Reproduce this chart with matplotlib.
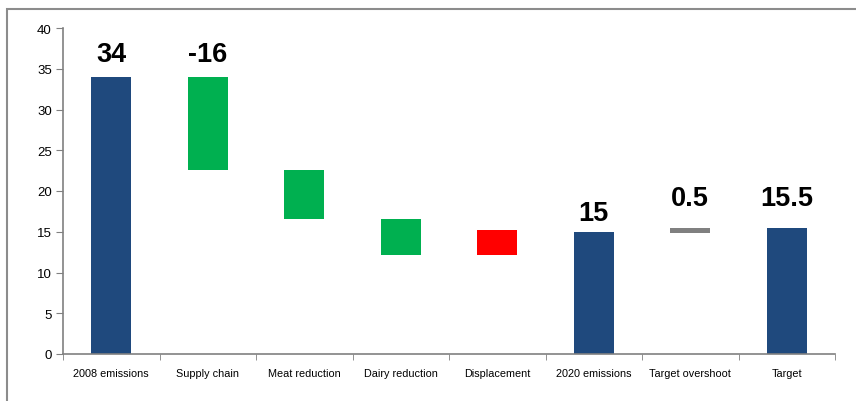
import numpy as np
import matplotlib
matplotlib.use('Agg')
import matplotlib.pyplot as plt
from matplotlib.patches import Rectangle

plt.rcParams['font.family'] = ['Liberation Sans', 'DejaVu Sans']

categories = ["2008 emissions", "Supply chain", "Meat reduction", "Dairy reduction",
              "Displacement", "2020 emissions", "Target overshoot", "Target"]
bottoms = [0, 22.6, 16.6, 12.15, 12.15, 0, 14.9, 0]
tops = [34, 34, 22.6, 16.6, 15.2, 15.0, 15.5, 15.5]
kinds = ["total", "down", "down", "down", "up", "total", "gap", "total"]
labels = ["34", "-16", "", "", "", "15", "0.5", "15.5"]

colours = {"total": "#1F497D", "down": "#00B050", "up": "#FF0000", "gap": "#808080"}
label_offsets = [7, 7, 0, 0, 0, 4, 12, 12]

fig = plt.figure(figsize=(8.56, 4.02), dpi=100)
# outer frame around the chart
fig.patches.append(Rectangle((7 / 856, -0.05), 1.2, 0.05 + 392 / 402,
                             transform=fig.transFigure, fill=False,
                             edgecolor="#8c8c8c", linewidth=1.5))
ax = fig.add_axes([63 / 856, 47 / 402, 772 / 856, 326 / 402])

x = np.arange(len(categories))
heights = np.array(tops) - np.array(bottoms)
ax.bar(x, heights, bottom=bottoms, width=0.41,
       color=[colours[k] for k in kinds], zorder=2)

for i in range(len(categories)):
    if labels[i]:
        ax.annotate(labels[i], (x[i], tops[i]), xytext=(0, label_offsets[i]),
                    textcoords="offset points", ha="center", va="bottom",
                    fontsize=19.5, fontweight="bold")

ax.set_xlim(-0.5, len(categories) - 0.5)
ax.set_ylim(0, 40)
ax.set_yticks(np.arange(0, 41, 5))
ax.set_xticks(x)
ax.set_xticklabels(categories, fontsize=7.8)
ax.set_xticks(np.arange(-0.5, len(categories), 1), minor=True)
ax.tick_params(axis="x", which="major", length=0, pad=10)
ax.tick_params(axis="x", which="minor", length=4, color="#808080", direction="out")
ax.tick_params(axis="y", length=5, color="#808080", labelsize=9.5, pad=3)

for s in ["top", "right"]:
    ax.spines[s].set_visible(False)
for s in ["left", "bottom"]:
    ax.spines[s].set_color("#808080")
    ax.spines[s].set_linewidth(1.2)

plt.savefig("out.png", dpi=100)
